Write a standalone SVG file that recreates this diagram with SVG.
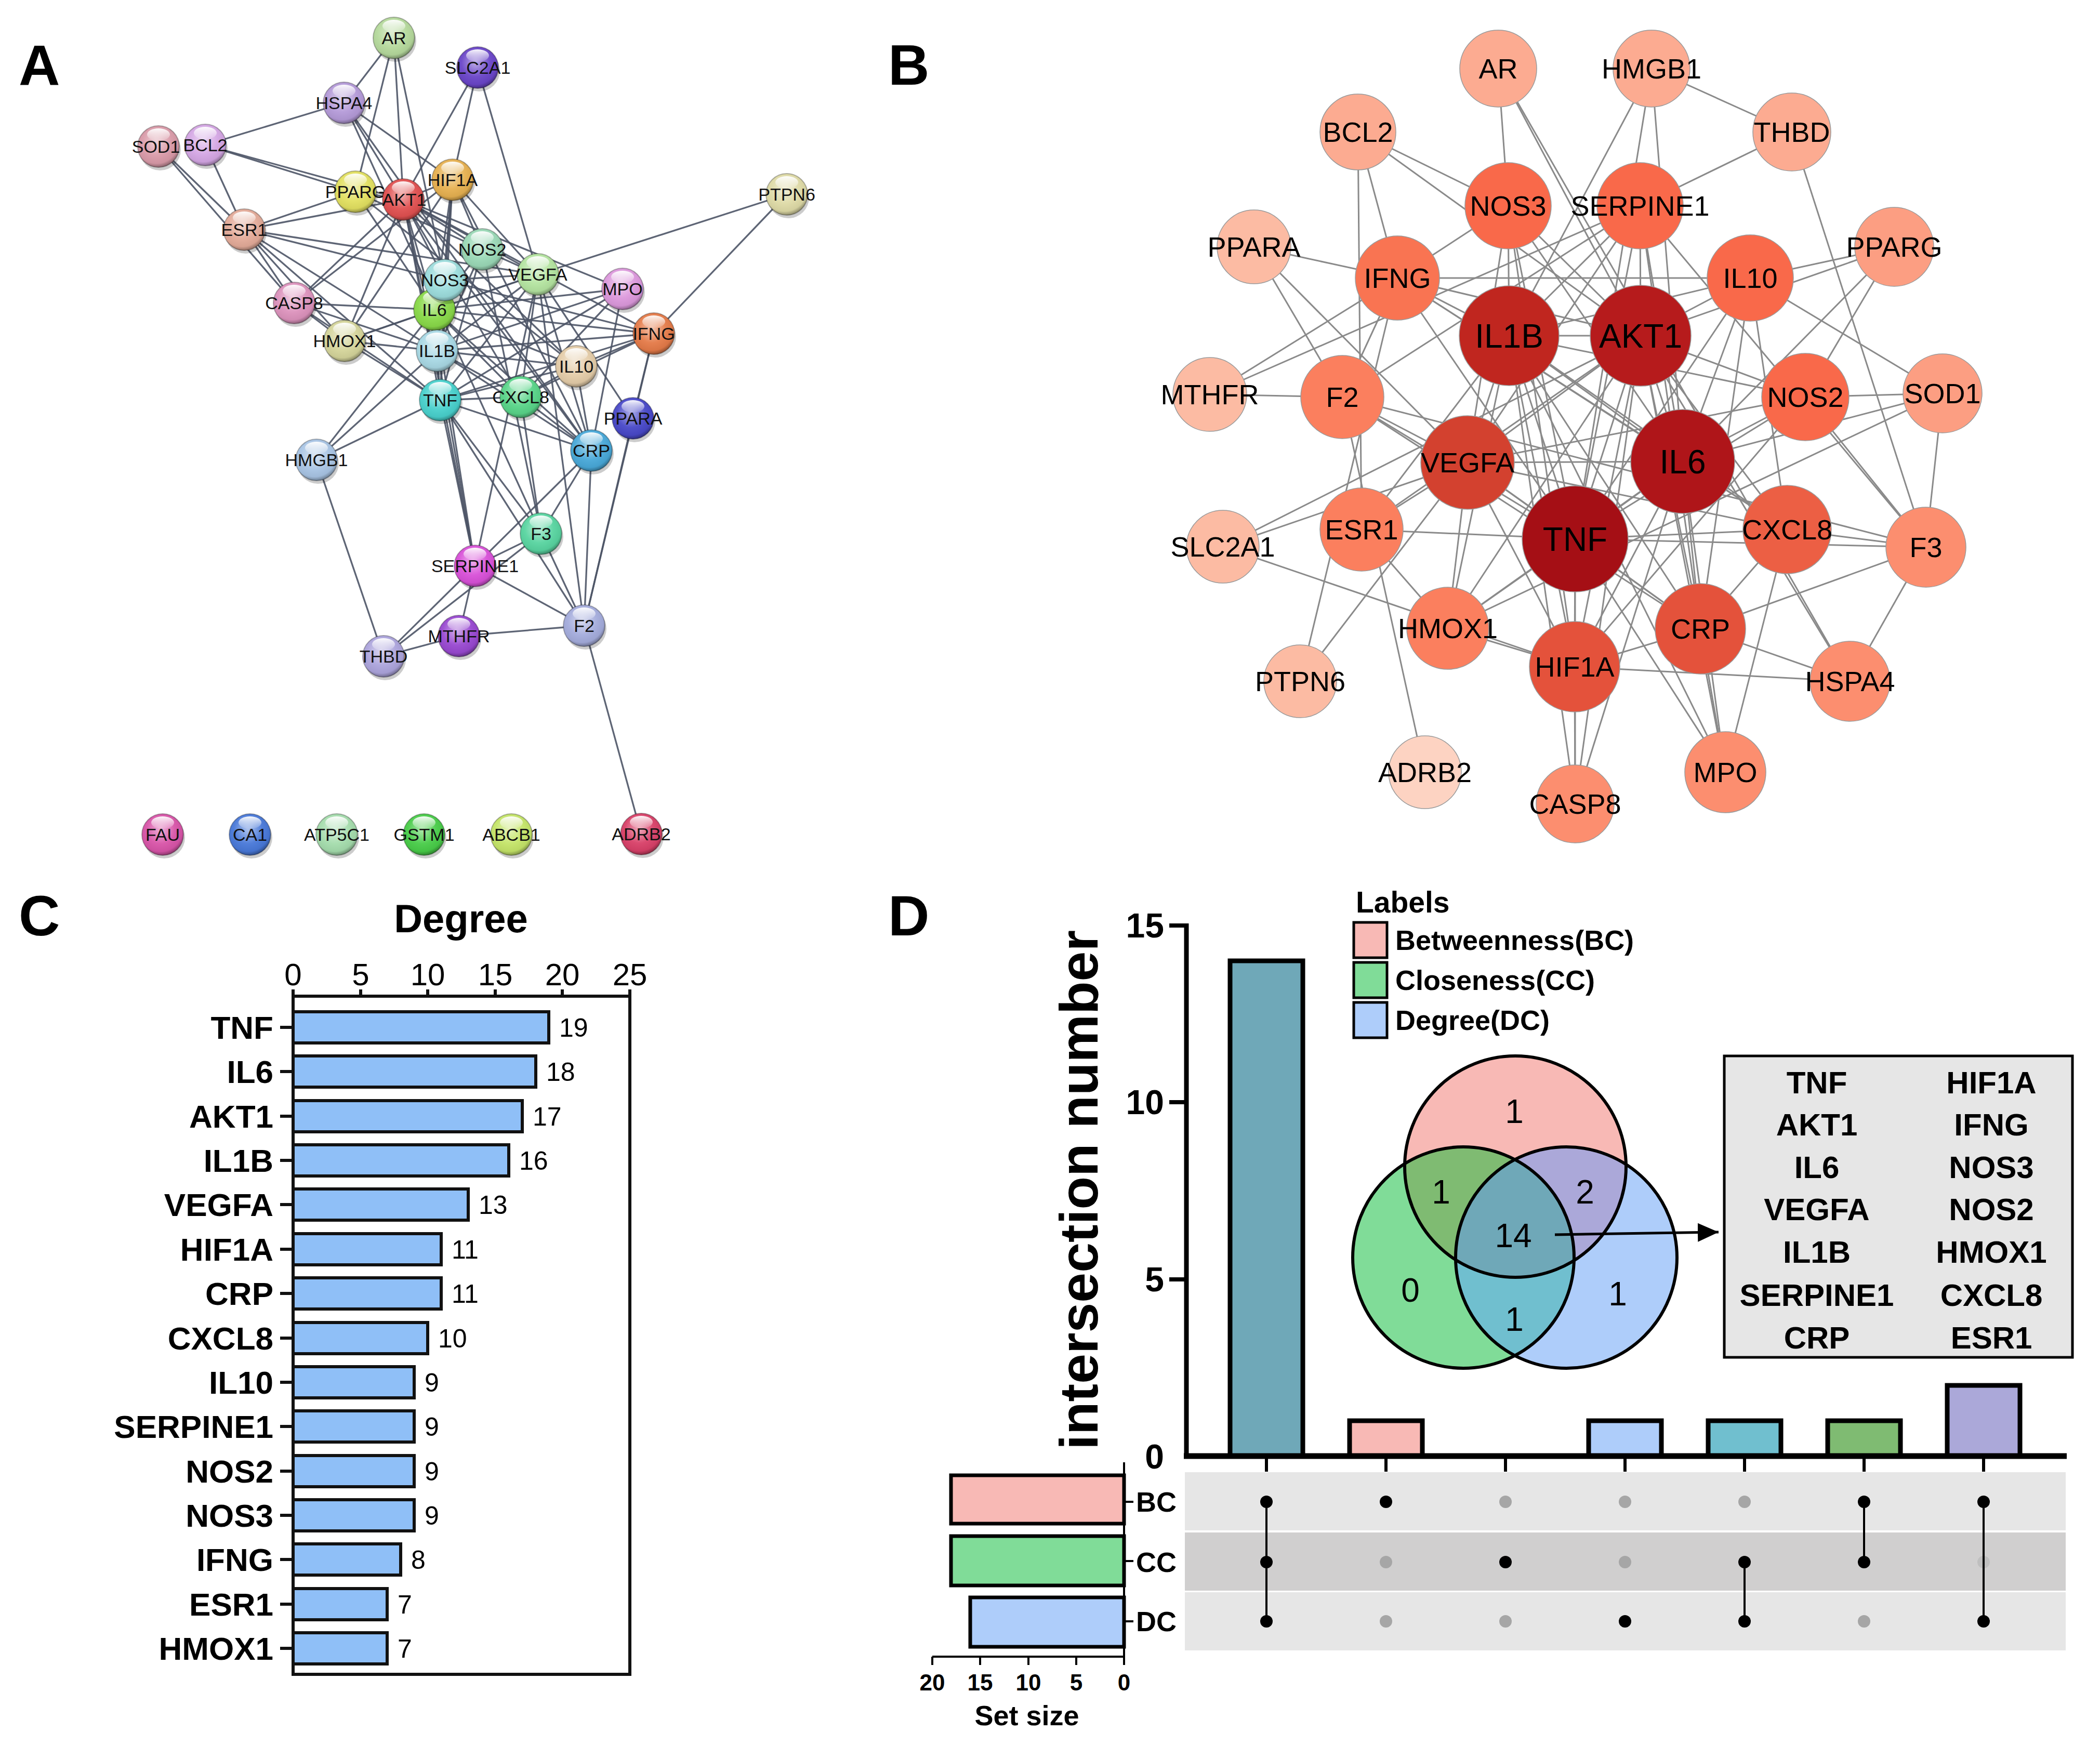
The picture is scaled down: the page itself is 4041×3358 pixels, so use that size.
<svg xmlns="http://www.w3.org/2000/svg" width="4041" height="3358" viewBox="0 0 4041 3358">
<defs>
<style>
text{font-family:"Liberation Sans",Arial,Helvetica,sans-serif;fill:#000}
.pl{font-size:110px;font-weight:bold}
.ea line{stroke:#4d5466;stroke-width:3.3;stroke-opacity:.9}
.eb line{stroke:#8a8a8a;stroke-width:3}
.sh{fill:#000;opacity:.2}
.an{stroke:#000;stroke-opacity:.28;stroke-width:2}
.gl{fill:url(#gloss)}
.hl{fill:url(#hlg)}
.ta{font-size:34px;text-anchor:middle;fill:#111}
.bn{stroke:#9a9a9a;stroke-width:1.5}
.tb{font-size:54px;text-anchor:middle}
.tbb{font-size:64px;text-anchor:middle}
.k1{fill:#a50f15}.k2{fill:#af1519}.k3{fill:#b61b1c}.k4{fill:#c0261f}.k5{fill:#d3412f}
.k6{fill:#e4523b}.k7{fill:#ec5f44}.k8{fill:#f9694a}.k9{fill:#f97452}.k10{fill:#fb7f5e}
.k11{fill:#fc8e6f}.k12{fill:#fc9e82}.k13{fill:#fcab91}.k14{fill:#fcbba3}.k15{fill:#fdd3c2}
.bar{fill:#8fbff7;stroke:#111;stroke-width:6}
.ax{stroke:#111;stroke-width:6;fill:none}
.rl{font-size:62px;font-weight:bold;text-anchor:end}
.vl{font-size:50px}
.tk{font-size:60px;text-anchor:middle}
.ib{stroke:#000;stroke-width:9}
.dk{fill:#000}
.dg{fill:#a6a6a6}
.vn{font-size:64px;text-anchor:middle}
.gt{font-size:60px;font-weight:bold;text-anchor:middle}
.lg{font-size:54px;font-weight:bold}
.vc{fill:none;stroke:#000;stroke-width:6}
</style>
<radialGradient id="gloss" cx="0.45" cy="0.38" r="0.62">
<stop offset="0" stop-color="#fff" stop-opacity="0.55"/>
<stop offset="0.55" stop-color="#fff" stop-opacity="0.05"/>
<stop offset="0.85" stop-color="#000" stop-opacity="0.05"/>
<stop offset="1" stop-color="#000" stop-opacity="0.35"/>
</radialGradient>
<linearGradient id="hlg" x1="0" y1="0" x2="0" y2="1">
<stop offset="0" stop-color="#fff" stop-opacity="0.95"/>
<stop offset="1" stop-color="#fff" stop-opacity="0.1"/>
</linearGradient>
<marker id="arr" viewBox="0 0 10 10" refX="10" refY="5" markerUnits="userSpaceOnUse" markerWidth="40" markerHeight="40" orient="auto">
<path d="M0 0.5L10 5L0 9.5z" fill="#000"/>
</marker>
<clipPath id="cR"><circle cx="2916" cy="2245" r="213"/></clipPath>
<clipPath id="cG"><circle cx="2816" cy="2420" r="213"/></clipPath>
</defs>
<rect width="4041" height="3358" fill="#fff"/>

<text class="pl" x="36" y="163">A</text>
<text class="pl" x="1709" y="163">B</text>
<text class="pl" x="36" y="1800">C</text>
<text class="pl" x="1709" y="1800">D</text>

<!-- Panel A connectors -->
<g id="edges-a" class="ea">
<line x1="758" y1="73" x2="662" y2="198"/><line x1="758" y1="73" x2="776" y2="384"/><line x1="758" y1="73" x2="856" y2="539"/>
<line x1="919" y1="130" x2="776" y2="384"/><line x1="919" y1="130" x2="1035" y2="528"/><line x1="919" y1="130" x2="871" y2="346"/>
<line x1="662" y1="198" x2="776" y2="384"/><line x1="662" y1="198" x2="1041" y2="1027"/><line x1="662" y1="198" x2="1138" y2="867"/><line x1="662" y1="198" x2="871" y2="346"/>
<line x1="395" y1="279" x2="776" y2="384"/><line x1="395" y1="279" x2="470" y2="442"/>
<line x1="684" y1="369" x2="1109" y2="705"/><line x1="684" y1="369" x2="928" y2="480"/><line x1="684" y1="369" x2="836" y2="596"/><line x1="684" y1="369" x2="776" y2="384"/>
<line x1="1218" y1="805" x2="1258" y2="642"/><line x1="1218" y1="805" x2="1124" y2="1204"/><line x1="1218" y1="805" x2="1035" y2="528"/>
<line x1="883" y1="1224" x2="1124" y2="1204"/><line x1="883" y1="1224" x2="914" y2="1089"/>
<line x1="738" y1="1263" x2="609" y2="885"/><line x1="738" y1="1263" x2="914" y2="1089"/><line x1="738" y1="1263" x2="1041" y2="1027"/>
<line x1="609" y1="885" x2="841" y2="675"/><line x1="609" y1="885" x2="847" y2="770"/><line x1="609" y1="885" x2="836" y2="596"/>
<line x1="1124" y1="1204" x2="1234" y2="1605"/><line x1="1124" y1="1204" x2="1258" y2="642"/><line x1="1124" y1="1204" x2="1035" y2="528"/><line x1="1124" y1="1204" x2="847" y2="770"/><line x1="1124" y1="1204" x2="914" y2="1089"/><line x1="1124" y1="1204" x2="1041" y2="1027"/><line x1="1124" y1="1204" x2="1138" y2="867"/>
<line x1="470" y1="442" x2="1035" y2="528"/><line x1="470" y1="442" x2="847" y2="770"/><line x1="470" y1="442" x2="663" y2="656"/><line x1="470" y1="442" x2="776" y2="384"/><line x1="470" y1="442" x2="841" y2="675"/>
<line x1="1514" y1="374" x2="1258" y2="642"/><line x1="1514" y1="374" x2="1035" y2="528"/>
<line x1="856" y1="539" x2="1258" y2="642"/><line x1="856" y1="539" x2="841" y2="675"/><line x1="856" y1="539" x2="776" y2="384"/><line x1="856" y1="539" x2="1035" y2="528"/><line x1="856" y1="539" x2="847" y2="770"/><line x1="856" y1="539" x2="836" y2="596"/><line x1="856" y1="539" x2="871" y2="346"/>
<line x1="914" y1="1089" x2="841" y2="675"/><line x1="914" y1="1089" x2="776" y2="384"/><line x1="914" y1="1089" x2="847" y2="770"/><line x1="914" y1="1089" x2="836" y2="596"/><line x1="914" y1="1089" x2="1035" y2="528"/><line x1="914" y1="1089" x2="1041" y2="1027"/><line x1="914" y1="1089" x2="1138" y2="867"/>
<line x1="1258" y1="642" x2="1109" y2="705"/><line x1="1258" y1="642" x2="841" y2="675"/><line x1="1258" y1="642" x2="776" y2="384"/><line x1="1258" y1="642" x2="847" y2="770"/><line x1="1258" y1="642" x2="836" y2="596"/><line x1="1258" y1="642" x2="1002" y2="764"/>
<line x1="1109" y1="705" x2="776" y2="384"/><line x1="1109" y1="705" x2="836" y2="596"/><line x1="1109" y1="705" x2="847" y2="770"/><line x1="1109" y1="705" x2="1002" y2="764"/><line x1="1109" y1="705" x2="1138" y2="867"/><line x1="1109" y1="705" x2="841" y2="675"/>
<line x1="928" y1="480" x2="1041" y2="1027"/><line x1="928" y1="480" x2="776" y2="384"/><line x1="928" y1="480" x2="836" y2="596"/><line x1="928" y1="480" x2="847" y2="770"/><line x1="928" y1="480" x2="841" y2="675"/><line x1="928" y1="480" x2="1035" y2="528"/><line x1="928" y1="480" x2="871" y2="346"/>
<line x1="841" y1="675" x2="776" y2="384"/><line x1="841" y1="675" x2="847" y2="770"/><line x1="841" y1="675" x2="836" y2="596"/><line x1="841" y1="675" x2="1035" y2="528"/><line x1="841" y1="675" x2="663" y2="656"/><line x1="841" y1="675" x2="1002" y2="764"/><line x1="841" y1="675" x2="1138" y2="867"/><line x1="841" y1="675" x2="1198" y2="556"/><line x1="841" y1="675" x2="566" y2="583"/><line x1="841" y1="675" x2="871" y2="346"/>
<line x1="776" y1="384" x2="847" y2="770"/><line x1="776" y1="384" x2="836" y2="596"/><line x1="776" y1="384" x2="1035" y2="528"/><line x1="776" y1="384" x2="871" y2="346"/><line x1="776" y1="384" x2="1002" y2="764"/><line x1="776" y1="384" x2="1138" y2="867"/><line x1="776" y1="384" x2="1198" y2="556"/><line x1="776" y1="384" x2="566" y2="583"/><line x1="776" y1="384" x2="663" y2="656"/>
<line x1="836" y1="596" x2="847" y2="770"/><line x1="836" y1="596" x2="1035" y2="528"/><line x1="836" y1="596" x2="1002" y2="764"/><line x1="836" y1="596" x2="1138" y2="867"/><line x1="836" y1="596" x2="1198" y2="556"/><line x1="836" y1="596" x2="566" y2="583"/><line x1="836" y1="596" x2="663" y2="656"/><line x1="836" y1="596" x2="871" y2="346"/>
<line x1="847" y1="770" x2="1035" y2="528"/><line x1="847" y1="770" x2="1002" y2="764"/><line x1="847" y1="770" x2="1138" y2="867"/><line x1="847" y1="770" x2="1198" y2="556"/><line x1="847" y1="770" x2="566" y2="583"/><line x1="847" y1="770" x2="663" y2="656"/><line x1="847" y1="770" x2="871" y2="346"/><line x1="847" y1="770" x2="1041" y2="1027"/>
<line x1="1002" y1="764" x2="1041" y2="1027"/><line x1="1002" y1="764" x2="1138" y2="867"/><line x1="1002" y1="764" x2="1198" y2="556"/><line x1="1002" y1="764" x2="1035" y2="528"/>
<line x1="1138" y1="867" x2="1041" y2="1027"/><line x1="1138" y1="867" x2="1198" y2="556"/><line x1="1138" y1="867" x2="871" y2="346"/><line x1="1138" y1="867" x2="1035" y2="528"/>
<line x1="566" y1="583" x2="871" y2="346"/><line x1="663" y1="656" x2="1035" y2="528"/><line x1="663" y1="656" x2="871" y2="346"/><line x1="871" y1="346" x2="1035" y2="528"/>
<line x1="662" y1="198" x2="395" y2="279"/><line x1="395" y1="279" x2="684" y2="369"/><line x1="470" y1="442" x2="684" y2="369"/><line x1="470" y1="442" x2="856" y2="539"/>
<line x1="305" y1="282" x2="470" y2="442"/><line x1="305" y1="282" x2="566" y2="583"/><line x1="470" y1="442" x2="566" y2="583"/><line x1="566" y1="583" x2="663" y2="656"/>
<line x1="883" y1="1224" x2="738" y2="1263"/><line x1="758" y1="73" x2="684" y2="369"/>
</g>

<!-- Panel A nodes -->
<g id="a-AR"><circle class="sh" cx="761" cy="79" r="40"/><circle class="an" cx="758" cy="73" r="40" fill="#b5d99c"/><circle class="gl" cx="758" cy="73" r="40"/><ellipse class="hl" cx="758" cy="50" rx="22" ry="12"/><text class="ta" x="758" y="85">AR</text></g>
<g id="a-SLC2A1"><circle class="sh" cx="922" cy="136" r="40"/><circle class="an" cx="919" cy="130" r="40" fill="#6a45c8"/><circle class="gl" cx="919" cy="130" r="40"/><ellipse class="hl" cx="919" cy="107" rx="22" ry="12"/><text class="ta" x="919" y="142">SLC2A1</text></g>
<g id="a-HSPA4"><circle class="sh" cx="665" cy="204" r="40"/><circle class="an" cx="662" cy="198" r="40" fill="#b49ad8"/><circle class="gl" cx="662" cy="198" r="40"/><ellipse class="hl" cx="662" cy="175" rx="22" ry="12"/><text class="ta" x="662" y="210">HSPA4</text></g>
<g id="a-SOD1"><circle class="sh" cx="308" cy="288" r="40"/><circle class="an" cx="305" cy="282" r="40" fill="#d99aa8"/><circle class="gl" cx="305" cy="282" r="40"/><ellipse class="hl" cx="305" cy="259" rx="22" ry="12"/><text class="ta" x="300" y="294">SOD1</text></g>
<g id="a-BCL2"><circle class="sh" cx="398" cy="285" r="40"/><circle class="an" cx="395" cy="279" r="40" fill="#d4a6e4"/><circle class="gl" cx="395" cy="279" r="40"/><ellipse class="hl" cx="395" cy="256" rx="22" ry="12"/><text class="ta" x="395" y="291">BCL2</text></g>
<g id="a-HIF1A"><circle class="sh" cx="874" cy="352" r="40"/><circle class="an" cx="871" cy="346" r="40" fill="#e6b050"/><circle class="gl" cx="871" cy="346" r="40"/><ellipse class="hl" cx="871" cy="323" rx="22" ry="12"/><text class="ta" x="871" y="358">HIF1A</text></g>
<g id="a-PPARG"><circle class="sh" cx="687" cy="375" r="40"/><circle class="an" cx="684" cy="369" r="40" fill="#e2e060"/><circle class="gl" cx="684" cy="369" r="40"/><ellipse class="hl" cx="684" cy="346" rx="22" ry="12"/><text class="ta" x="684" y="381">PPARG</text></g>
<g id="a-AKT1"><circle class="sh" cx="779" cy="390" r="40"/><circle class="an" cx="776" cy="384" r="40" fill="#e05050"/><circle class="gl" cx="776" cy="384" r="40"/><ellipse class="hl" cx="776" cy="361" rx="22" ry="12"/><text class="ta" x="778" y="396">AKT1</text></g>
<g id="a-PTPN6"><circle class="sh" cx="1517" cy="380" r="40"/><circle class="an" cx="1514" cy="374" r="40" fill="#dedaa6"/><circle class="gl" cx="1514" cy="374" r="40"/><ellipse class="hl" cx="1514" cy="351" rx="22" ry="12"/><text class="ta" x="1514" y="386">PTPN6</text></g>
<g id="a-ESR1"><circle class="sh" cx="473" cy="448" r="40"/><circle class="an" cx="470" cy="442" r="40" fill="#e3aa98"/><circle class="gl" cx="470" cy="442" r="40"/><ellipse class="hl" cx="470" cy="419" rx="22" ry="12"/><text class="ta" x="470" y="454">ESR1</text></g>
<g id="a-NOS2"><circle class="sh" cx="931" cy="486" r="40"/><circle class="an" cx="928" cy="480" r="40" fill="#9ad8b6"/><circle class="gl" cx="928" cy="480" r="40"/><ellipse class="hl" cx="928" cy="457" rx="22" ry="12"/><text class="ta" x="928" y="492">NOS2</text></g>
<g id="a-VEGFA"><circle class="sh" cx="1038" cy="534" r="40"/><circle class="an" cx="1035" cy="528" r="40" fill="#b4e4a0"/><circle class="gl" cx="1035" cy="528" r="40"/><ellipse class="hl" cx="1035" cy="505" rx="22" ry="12"/><text class="ta" x="1035" y="540">VEGFA</text></g>
<g id="a-MPO"><circle class="sh" cx="1201" cy="562" r="40"/><circle class="an" cx="1198" cy="556" r="40" fill="#dc98dc"/><circle class="gl" cx="1198" cy="556" r="40"/><ellipse class="hl" cx="1198" cy="533" rx="22" ry="12"/><text class="ta" x="1198" y="568">MPO</text></g>
<g id="a-CASP8"><circle class="sh" cx="569" cy="589" r="40"/><circle class="an" cx="566" cy="583" r="40" fill="#dc92bc"/><circle class="gl" cx="566" cy="583" r="40"/><ellipse class="hl" cx="566" cy="560" rx="22" ry="12"/><text class="ta" x="566" y="595">CASP8</text></g>
<g id="a-IL6"><circle class="sh" cx="839" cy="602" r="40"/><circle class="an" cx="836" cy="596" r="40" fill="#88d848"/><circle class="gl" cx="836" cy="596" r="40"/><ellipse class="hl" cx="836" cy="573" rx="22" ry="12"/><text class="ta" x="836" y="608">IL6</text></g>
<g id="a-NOS3"><circle class="sh" cx="859" cy="545" r="40"/><circle class="an" cx="856" cy="539" r="40" fill="#9cdcdc"/><circle class="gl" cx="856" cy="539" r="40"/><ellipse class="hl" cx="856" cy="516" rx="22" ry="12"/><text class="ta" x="856" y="551">NOS3</text></g>
<g id="a-IFNG"><circle class="sh" cx="1261" cy="648" r="40"/><circle class="an" cx="1258" cy="642" r="40" fill="#e47a48"/><circle class="gl" cx="1258" cy="642" r="40"/><ellipse class="hl" cx="1258" cy="619" rx="22" ry="12"/><text class="ta" x="1258" y="654">IFNG</text></g>
<g id="a-HMOX1"><circle class="sh" cx="666" cy="662" r="40"/><circle class="an" cx="663" cy="656" r="40" fill="#d4d49a"/><circle class="gl" cx="663" cy="656" r="40"/><ellipse class="hl" cx="663" cy="633" rx="22" ry="12"/><text class="ta" x="663" y="668">HMOX1</text></g>
<g id="a-IL1B"><circle class="sh" cx="844" cy="681" r="40"/><circle class="an" cx="841" cy="675" r="40" fill="#a8d8e4"/><circle class="gl" cx="841" cy="675" r="40"/><ellipse class="hl" cx="841" cy="652" rx="22" ry="12"/><text class="ta" x="841" y="687">IL1B</text></g>
<g id="a-IL10"><circle class="sh" cx="1112" cy="711" r="40"/><circle class="an" cx="1109" cy="705" r="40" fill="#e4cca8"/><circle class="gl" cx="1109" cy="705" r="40"/><ellipse class="hl" cx="1109" cy="682" rx="22" ry="12"/><text class="ta" x="1109" y="717">IL10</text></g>
<g id="a-TNF"><circle class="sh" cx="850" cy="776" r="40"/><circle class="an" cx="847" cy="770" r="40" fill="#48d0cc"/><circle class="gl" cx="847" cy="770" r="40"/><ellipse class="hl" cx="847" cy="747" rx="22" ry="12"/><text class="ta" x="847" y="782">TNF</text></g>
<g id="a-CXCL8"><circle class="sh" cx="1005" cy="770" r="40"/><circle class="an" cx="1002" cy="764" r="40" fill="#58d488"/><circle class="gl" cx="1002" cy="764" r="40"/><ellipse class="hl" cx="1002" cy="741" rx="22" ry="12"/><text class="ta" x="1002" y="776">CXCL8</text></g>
<g id="a-PPARA"><circle class="sh" cx="1221" cy="811" r="40"/><circle class="an" cx="1218" cy="805" r="40" fill="#4848c8"/><circle class="gl" cx="1218" cy="805" r="40"/><ellipse class="hl" cx="1218" cy="782" rx="22" ry="12"/><text class="ta" x="1218" y="817">PPARA</text></g>
<g id="a-CRP"><circle class="sh" cx="1141" cy="873" r="40"/><circle class="an" cx="1138" cy="867" r="40" fill="#48a8d8"/><circle class="gl" cx="1138" cy="867" r="40"/><ellipse class="hl" cx="1138" cy="844" rx="22" ry="12"/><text class="ta" x="1138" y="879">CRP</text></g>
<g id="a-HMGB1"><circle class="sh" cx="612" cy="891" r="40"/><circle class="an" cx="609" cy="885" r="40" fill="#a8c4e4"/><circle class="gl" cx="609" cy="885" r="40"/><ellipse class="hl" cx="609" cy="862" rx="22" ry="12"/><text class="ta" x="609" y="897">HMGB1</text></g>
<g id="a-F3"><circle class="sh" cx="1044" cy="1033" r="40"/><circle class="an" cx="1041" cy="1027" r="40" fill="#58d4a0"/><circle class="gl" cx="1041" cy="1027" r="40"/><ellipse class="hl" cx="1041" cy="1004" rx="22" ry="12"/><text class="ta" x="1041" y="1039">F3</text></g>
<g id="a-SERPINE1"><circle class="sh" cx="917" cy="1095" r="40"/><circle class="an" cx="914" cy="1089" r="40" fill="#d850d8"/><circle class="gl" cx="914" cy="1089" r="40"/><ellipse class="hl" cx="914" cy="1066" rx="22" ry="12"/><text class="ta" x="914" y="1101">SERPINE1</text></g>
<g id="a-F2"><circle class="sh" cx="1127" cy="1210" r="40"/><circle class="an" cx="1124" cy="1204" r="40" fill="#a4acdc"/><circle class="gl" cx="1124" cy="1204" r="40"/><ellipse class="hl" cx="1124" cy="1181" rx="22" ry="12"/><text class="ta" x="1124" y="1216">F2</text></g>
<g id="a-MTHFR"><circle class="sh" cx="886" cy="1230" r="40"/><circle class="an" cx="883" cy="1224" r="40" fill="#9848d0"/><circle class="gl" cx="883" cy="1224" r="40"/><ellipse class="hl" cx="883" cy="1201" rx="22" ry="12"/><text class="ta" x="883" y="1236">MTHFR</text></g>
<g id="a-THBD"><circle class="sh" cx="741" cy="1269" r="40"/><circle class="an" cx="738" cy="1263" r="40" fill="#aca4dc"/><circle class="gl" cx="738" cy="1263" r="40"/><ellipse class="hl" cx="738" cy="1240" rx="22" ry="12"/><text class="ta" x="738" y="1275">THBD</text></g>
<g id="a-FAU"><circle class="sh" cx="316" cy="1612" r="40"/><circle class="an" cx="313" cy="1606" r="40" fill="#d854a8"/><circle class="gl" cx="313" cy="1606" r="40"/><ellipse class="hl" cx="313" cy="1583" rx="22" ry="12"/><text class="ta" x="313" y="1618">FAU</text></g>
<g id="a-CA1"><circle class="sh" cx="484" cy="1612" r="40"/><circle class="an" cx="481" cy="1606" r="40" fill="#4878d8"/><circle class="gl" cx="481" cy="1606" r="40"/><ellipse class="hl" cx="481" cy="1583" rx="22" ry="12"/><text class="ta" x="481" y="1618">CA1</text></g>
<g id="a-ATP5C1"><circle class="sh" cx="651" cy="1612" r="40"/><circle class="an" cx="648" cy="1606" r="40" fill="#a4dcac"/><circle class="gl" cx="648" cy="1606" r="40"/><ellipse class="hl" cx="648" cy="1583" rx="22" ry="12"/><text class="ta" x="648" y="1618">ATP5C1</text></g>
<g id="a-GSTM1"><circle class="sh" cx="819" cy="1612" r="40"/><circle class="an" cx="816" cy="1606" r="40" fill="#48cc48"/><circle class="gl" cx="816" cy="1606" r="40"/><ellipse class="hl" cx="816" cy="1583" rx="22" ry="12"/><text class="ta" x="816" y="1618">GSTM1</text></g>
<g id="a-ABCB1"><circle class="sh" cx="987" cy="1612" r="40"/><circle class="an" cx="984" cy="1606" r="40" fill="#c4e468"/><circle class="gl" cx="984" cy="1606" r="40"/><ellipse class="hl" cx="984" cy="1583" rx="22" ry="12"/><text class="ta" x="984" y="1618">ABCB1</text></g>
<g id="a-ADRB2"><circle class="sh" cx="1237" cy="1611" r="40"/><circle class="an" cx="1234" cy="1605" r="40" fill="#d84068"/><circle class="gl" cx="1234" cy="1605" r="40"/><ellipse class="hl" cx="1234" cy="1582" rx="22" ry="12"/><text class="ta" x="1234" y="1617">ADRB2</text></g>

<!-- Panel B connectors -->
<g id="edges-b" class="eb">
<line x1="2883" y1="132" x2="3560" y2="1311"/><line x1="2883" y1="132" x2="3157" y2="646"/><line x1="2883" y1="132" x2="2902" y2="396"/>
<line x1="2353" y1="1052" x2="3157" y2="646"/><line x1="2353" y1="1052" x2="2824" y2="890"/><line x1="2353" y1="1052" x2="3030" y2="1283"/>
<line x1="3560" y1="1311" x2="3157" y2="646"/><line x1="3560" y1="1311" x2="3706" y2="1053"/><line x1="3560" y1="1311" x2="3272" y2="1210"/><line x1="3560" y1="1311" x2="3030" y2="1283"/>
<line x1="3738" y1="757" x2="3474" y2="764"/><line x1="3738" y1="757" x2="3706" y2="1053"/><line x1="3738" y1="757" x2="3368" y2="535"/><line x1="3738" y1="757" x2="2786" y2="1209"/><line x1="3738" y1="757" x2="3238" y2="888"/>
<line x1="2613" y1="254" x2="2902" y2="396"/><line x1="2613" y1="254" x2="3157" y2="646"/><line x1="2613" y1="254" x2="2689" y2="535"/><line x1="2613" y1="254" x2="2620" y2="1019"/>
<line x1="3645" y1="475" x2="3368" y2="535"/><line x1="3645" y1="475" x2="3474" y2="764"/><line x1="3645" y1="475" x2="3238" y2="888"/><line x1="3645" y1="475" x2="3157" y2="646"/>
<line x1="2413" y1="475" x2="2689" y2="535"/><line x1="2413" y1="475" x2="2583" y2="764"/><line x1="2413" y1="475" x2="2824" y2="890"/>
<line x1="2328" y1="759" x2="2583" y2="764"/><line x1="2328" y1="759" x2="2689" y2="535"/><line x1="2328" y1="759" x2="3156" y2="396"/>
<line x1="3448" y1="254" x2="3178" y2="132"/><line x1="3448" y1="254" x2="3156" y2="396"/><line x1="3448" y1="254" x2="3706" y2="1053"/>
<line x1="3178" y1="132" x2="2904" y2="646"/><line x1="3178" y1="132" x2="3031" y2="1037"/><line x1="3178" y1="132" x2="3238" y2="888"/>
<line x1="2583" y1="764" x2="2742" y2="1486"/><line x1="2583" y1="764" x2="2689" y2="535"/><line x1="2583" y1="764" x2="2824" y2="890"/><line x1="2583" y1="764" x2="3031" y2="1037"/><line x1="2583" y1="764" x2="3156" y2="396"/><line x1="2583" y1="764" x2="3706" y2="1053"/><line x1="2583" y1="764" x2="3272" y2="1210"/>
<line x1="2620" y1="1019" x2="2824" y2="890"/><line x1="2620" y1="1019" x2="3031" y2="1037"/><line x1="2620" y1="1019" x2="2786" y2="1209"/><line x1="2620" y1="1019" x2="3157" y2="646"/><line x1="2620" y1="1019" x2="2904" y2="646"/>
<line x1="2502" y1="1311" x2="2689" y2="535"/><line x1="2502" y1="1311" x2="2824" y2="890"/>
<line x1="2902" y1="396" x2="2689" y2="535"/><line x1="2902" y1="396" x2="2904" y2="646"/><line x1="2902" y1="396" x2="3157" y2="646"/><line x1="2902" y1="396" x2="2824" y2="890"/><line x1="2902" y1="396" x2="3031" y2="1037"/><line x1="2902" y1="396" x2="3238" y2="888"/><line x1="2902" y1="396" x2="3030" y2="1283"/>
<line x1="3156" y1="396" x2="2904" y2="646"/><line x1="3156" y1="396" x2="3157" y2="646"/><line x1="3156" y1="396" x2="3031" y2="1037"/><line x1="3156" y1="396" x2="3238" y2="888"/><line x1="3156" y1="396" x2="2824" y2="890"/><line x1="3156" y1="396" x2="3706" y2="1053"/><line x1="3156" y1="396" x2="3272" y2="1210"/>
<line x1="2689" y1="535" x2="3368" y2="535"/><line x1="2689" y1="535" x2="2904" y2="646"/><line x1="2689" y1="535" x2="3157" y2="646"/><line x1="2689" y1="535" x2="3031" y2="1037"/><line x1="2689" y1="535" x2="3238" y2="888"/><line x1="2689" y1="535" x2="3439" y2="1019"/>
<line x1="3368" y1="535" x2="3157" y2="646"/><line x1="3368" y1="535" x2="3238" y2="888"/><line x1="3368" y1="535" x2="3031" y2="1037"/><line x1="3368" y1="535" x2="3439" y2="1019"/><line x1="3368" y1="535" x2="3272" y2="1210"/><line x1="3368" y1="535" x2="2904" y2="646"/>
<line x1="3474" y1="764" x2="3706" y2="1053"/><line x1="3474" y1="764" x2="3157" y2="646"/><line x1="3474" y1="764" x2="3238" y2="888"/><line x1="3474" y1="764" x2="3031" y2="1037"/><line x1="3474" y1="764" x2="2904" y2="646"/><line x1="3474" y1="764" x2="2824" y2="890"/><line x1="3474" y1="764" x2="3030" y2="1283"/>
<line x1="2904" y1="646" x2="3157" y2="646"/><line x1="2904" y1="646" x2="3031" y2="1037"/><line x1="2904" y1="646" x2="3238" y2="888"/><line x1="2904" y1="646" x2="2824" y2="890"/><line x1="2904" y1="646" x2="2786" y2="1209"/><line x1="2904" y1="646" x2="3439" y2="1019"/><line x1="2904" y1="646" x2="3272" y2="1210"/><line x1="2904" y1="646" x2="3320" y2="1486"/><line x1="2904" y1="646" x2="3031" y2="1547"/><line x1="2904" y1="646" x2="3030" y2="1283"/>
<line x1="3157" y1="646" x2="3031" y2="1037"/><line x1="3157" y1="646" x2="3238" y2="888"/><line x1="3157" y1="646" x2="2824" y2="890"/><line x1="3157" y1="646" x2="3030" y2="1283"/><line x1="3157" y1="646" x2="3439" y2="1019"/><line x1="3157" y1="646" x2="3272" y2="1210"/><line x1="3157" y1="646" x2="3320" y2="1486"/><line x1="3157" y1="646" x2="3031" y2="1547"/><line x1="3157" y1="646" x2="2786" y2="1209"/>
<line x1="3238" y1="888" x2="3031" y2="1037"/><line x1="3238" y1="888" x2="2824" y2="890"/><line x1="3238" y1="888" x2="3439" y2="1019"/><line x1="3238" y1="888" x2="3272" y2="1210"/><line x1="3238" y1="888" x2="3320" y2="1486"/><line x1="3238" y1="888" x2="3031" y2="1547"/><line x1="3238" y1="888" x2="2786" y2="1209"/><line x1="3238" y1="888" x2="3030" y2="1283"/>
<line x1="3031" y1="1037" x2="2824" y2="890"/><line x1="3031" y1="1037" x2="3439" y2="1019"/><line x1="3031" y1="1037" x2="3272" y2="1210"/><line x1="3031" y1="1037" x2="3320" y2="1486"/><line x1="3031" y1="1037" x2="3031" y2="1547"/><line x1="3031" y1="1037" x2="2786" y2="1209"/><line x1="3031" y1="1037" x2="3030" y2="1283"/><line x1="3031" y1="1037" x2="3706" y2="1053"/>
<line x1="3439" y1="1019" x2="3706" y2="1053"/><line x1="3439" y1="1019" x2="3272" y2="1210"/><line x1="3439" y1="1019" x2="3320" y2="1486"/><line x1="3439" y1="1019" x2="2824" y2="890"/>
<line x1="3272" y1="1210" x2="3706" y2="1053"/><line x1="3272" y1="1210" x2="3320" y2="1486"/><line x1="3272" y1="1210" x2="3030" y2="1283"/><line x1="3272" y1="1210" x2="2824" y2="890"/>
<line x1="3031" y1="1547" x2="3030" y2="1283"/><line x1="2786" y1="1209" x2="2824" y2="890"/><line x1="2786" y1="1209" x2="3030" y2="1283"/><line x1="3030" y1="1283" x2="2824" y2="890"/>
</g>

<!-- Panel B nodes -->
<g id="b-AR"><circle class="bn k13" cx="2883" cy="132" r="74"/><text class="tb" x="2883" y="151">AR</text></g>
<g id="b-HMGB1"><circle class="bn k13" cx="3178" cy="132" r="74"/><text class="tb" x="3178" y="151">HMGB1</text></g>
<g id="b-BCL2"><circle class="bn k13" cx="2613" cy="254" r="73"/><text class="tb" x="2613" y="273">BCL2</text></g>
<g id="b-THBD"><circle class="bn k13" cx="3448" cy="254" r="75"/><text class="tb" x="3448" y="273">THBD</text></g>
<g id="b-NOS3"><circle class="bn k8" cx="2902" cy="396" r="83"/><text class="tb" x="2902" y="415">NOS3</text></g>
<g id="b-SERPINE1"><circle class="bn k8" cx="3156" cy="396" r="83"/><text class="tb" x="3156" y="415">SERPINE1</text></g>
<g id="b-PPARA"><circle class="bn k14" cx="2413" cy="475" r="71"/><text class="tb" x="2413" y="494">PPARA</text></g>
<g id="b-PPARG"><circle class="bn k12" cx="3645" cy="475" r="76"/><text class="tb" x="3645" y="494">PPARG</text></g>
<g id="b-IFNG"><circle class="bn k9" cx="2689" cy="535" r="81"/><text class="tb" x="2689" y="554">IFNG</text></g>
<g id="b-IL10"><circle class="bn k8" cx="3368" cy="535" r="83"/><text class="tb" x="3368" y="554">IL10</text></g>
<g id="b-IL1B"><circle class="bn k4" cx="2904" cy="646" r="96"/><text class="tbb" x="2904" y="669">IL1B</text></g>
<g id="b-AKT1"><circle class="bn k3" cx="3157" cy="646" r="97"/><text class="tbb" x="3157" y="669">AKT1</text></g>
<g id="b-MTHFR"><circle class="bn k14" cx="2328" cy="759" r="71"/><text class="tb" x="2328" y="778">MTHFR</text></g>
<g id="b-F2"><circle class="bn k10" cx="2583" cy="764" r="80"/><text class="tb" x="2583" y="783">F2</text></g>
<g id="b-NOS2"><circle class="bn k8" cx="3474" cy="764" r="84"/><text class="tb" x="3474" y="783">NOS2</text></g>
<g id="b-SOD1"><circle class="bn k12" cx="3738" cy="757" r="76"/><text class="tb" x="3738" y="776">SOD1</text></g>
<g id="b-VEGFA"><circle class="bn k5" cx="2824" cy="890" r="90"/><text class="tb" x="2824" y="909">VEGFA</text></g>
<g id="b-IL6"><circle class="bn k2" cx="3238" cy="888" r="100"/><text class="tbb" x="3238" y="911">IL6</text></g>
<g id="b-SLC2A1"><circle class="bn k14" cx="2353" cy="1052" r="70"/><text class="tb" x="2353" y="1071">SLC2A1</text></g>
<g id="b-ESR1"><circle class="bn k10" cx="2620" cy="1019" r="80"/><text class="tb" x="2620" y="1038">ESR1</text></g>
<g id="b-TNF"><circle class="bn k1" cx="3031" cy="1037" r="102"/><text class="tbb" x="3031" y="1060">TNF</text></g>
<g id="b-CXCL8"><circle class="bn k7" cx="3439" cy="1019" r="85"/><text class="tb" x="3439" y="1038">CXCL8</text></g>
<g id="b-F3"><circle class="bn k11" cx="3706" cy="1053" r="77"/><text class="tb" x="3706" y="1072">F3</text></g>
<g id="b-HMOX1"><circle class="bn k10" cx="2786" cy="1209" r="79"/><text class="tb" x="2786" y="1228">HMOX1</text></g>
<g id="b-CRP"><circle class="bn k6" cx="3272" cy="1210" r="87"/><text class="tb" x="3272" y="1229">CRP</text></g>
<g id="b-HIF1A"><circle class="bn k6" cx="3030" cy="1283" r="87"/><text class="tb" x="3030" y="1302">HIF1A</text></g>
<g id="b-PTPN6"><circle class="bn k14" cx="2502" cy="1311" r="70"/><text class="tb" x="2502" y="1330">PTPN6</text></g>
<g id="b-HSPA4"><circle class="bn k11" cx="3560" cy="1311" r="77"/><text class="tb" x="3560" y="1330">HSPA4</text></g>
<g id="b-ADRB2"><circle class="bn k15" cx="2742" cy="1486" r="70"/><text class="tb" x="2742" y="1505">ADRB2</text></g>
<g id="b-MPO"><circle class="bn k11" cx="3320" cy="1486" r="78"/><text class="tb" x="3320" y="1505">MPO</text></g>
<g id="b-CASP8"><circle class="bn k11" cx="3031" cy="1547" r="75"/><text class="tb" x="3031" y="1566">CASP8</text></g>

<!-- Panel C: Degree bar chart -->
<g id="c-chart">
<text x="887" y="1794" font-size="76" font-weight="bold" text-anchor="middle">Degree</text>
<g class="tk"><text x="564" y="1896">0</text><text x="694" y="1896">5</text><text x="823" y="1896">10</text><text x="953" y="1896">15</text><text x="1082" y="1896">20</text><text x="1212" y="1896">25</text></g>
<path class="ax" d="M564 1904V1917M694 1904V1917M823 1904V1917M953 1904V1917M1082 1904V1917M1212 1904V1917"/>
<g id="c-bars">
<rect class="bar" x="564" y="1947" width="492" height="60"/>
<rect class="bar" x="564" y="2032" width="467" height="60"/>
<rect class="bar" x="564" y="2118" width="441" height="60"/>
<rect class="bar" x="564" y="2203" width="415" height="60"/>
<rect class="bar" x="564" y="2288" width="337" height="60"/>
<rect class="bar" x="564" y="2374" width="285" height="60"/>
<rect class="bar" x="564" y="2459" width="285" height="60"/>
<rect class="bar" x="564" y="2545" width="259" height="60"/>
<rect class="bar" x="564" y="2630" width="233" height="60"/>
<rect class="bar" x="564" y="2715" width="233" height="60"/>
<rect class="bar" x="564" y="2801" width="233" height="60"/>
<rect class="bar" x="564" y="2886" width="233" height="60"/>
<rect class="bar" x="564" y="2971" width="207" height="60"/>
<rect class="bar" x="564" y="3057" width="181" height="60"/>
<rect class="bar" x="564" y="3142" width="181" height="60"/>
</g>
<rect class="ax" x="564" y="1917" width="648" height="1305" stroke-width="7"/>
<path class="ax" d="M539 1977H564M539 2062H564M539 2148H564M539 2233H564M539 2318H564M539 2404H564M539 2489H564M539 2575H564M539 2660H564M539 2745H564M539 2831H564M539 2916H564M539 3001H564M539 3087H564M539 3172H564"/>
<g class="rl">
<text x="526" y="1999">TNF</text><text x="526" y="2084">IL6</text><text x="526" y="2170">AKT1</text><text x="526" y="2255">IL1B</text><text x="526" y="2340">VEGFA</text><text x="526" y="2426">HIF1A</text><text x="526" y="2511">CRP</text><text x="526" y="2597">CXCL8</text><text x="526" y="2682">IL10</text><text x="526" y="2767">SERPINE1</text><text x="526" y="2853">NOS2</text><text x="526" y="2938">NOS3</text><text x="526" y="3023">IFNG</text><text x="526" y="3109">ESR1</text><text x="526" y="3194">HMOX1</text>
</g>
<g class="vl">
<text x="1076" y="1995">19</text><text x="1051" y="2080">18</text><text x="1025" y="2166">17</text><text x="999" y="2251">16</text><text x="921" y="2336">13</text><text x="869" y="2422">11</text><text x="869" y="2507">11</text><text x="843" y="2593">10</text><text x="817" y="2678">9</text><text x="817" y="2763">9</text><text x="817" y="2849">9</text><text x="817" y="2934">9</text><text x="791" y="3019">8</text><text x="765" y="3105">7</text><text x="765" y="3190">7</text>
</g>
</g>

<!-- Panel D: UpSet + Venn -->
<g id="d-upset">
<text transform="translate(2112,2290) rotate(-90)" font-size="104" font-weight="bold" text-anchor="middle">intersection number</text>
<g font-size="66" font-weight="bold" text-anchor="end">
<text x="2240" y="1804">15</text><text x="2240" y="2144">10</text><text x="2240" y="2485">5</text><text x="2240" y="2826">0</text>
</g>
<g id="d-bars">
<rect class="ib" x="2367" y="1849" width="140" height="953" fill="#6fa8b8"/>
<rect class="ib" x="2597" y="2734" width="140" height="68" fill="#f8b9b5"/>
<rect class="ib" x="3057" y="2734" width="140" height="68" fill="#aecdfa"/>
<rect class="ib" x="3287" y="2734" width="140" height="68" fill="#70bfcf"/>
<rect class="ib" x="3517" y="2734" width="140" height="68" fill="#7fbb72"/>
<rect class="ib" x="3747" y="2666" width="140" height="136" fill="#aba8d9"/>
</g>
<path d="M2283 1777V2807" stroke="#000" stroke-width="9" fill="none"/>
<path d="M2278 2802H3977" stroke="#000" stroke-width="11" fill="none"/>
<path d="M2250 1781H2283M2250 2121H2283M2250 2462H2283" stroke="#000" stroke-width="8" fill="none"/>
<path d="M2437 2807V2832M2667 2807V2832M2897 2807V2832M3127 2807V2832M3357 2807V2832M3587 2807V2832M3817 2807V2832" stroke="#000" stroke-width="6" fill="none"/>
<g id="d-matrix">
<rect x="2280" y="2833" width="1695" height="112" fill="#e6e6e6"/>
<rect x="2280" y="2949" width="1695" height="112" fill="#d0cfcf"/>
<rect x="2280" y="3064" width="1695" height="112" fill="#e6e6e6"/>
<g class="dg">
<circle cx="2667" cy="3006" r="12"/><circle cx="2667" cy="3120" r="12"/>
<circle cx="2897" cy="2890" r="12"/><circle cx="2897" cy="3120" r="12"/>
<circle cx="3127" cy="2890" r="12"/><circle cx="3127" cy="3006" r="12"/>
<circle cx="3357" cy="2890" r="12"/>
<circle cx="3587" cy="3120" r="12"/>
<circle cx="3817" cy="3006" r="12" fill="#bfbfbf"/>
</g>
<path d="M2437 2890V3120M3357 3006V3120M3587 2890V3006M3817 2890V3120" stroke="#000" stroke-width="4" fill="none"/>
<g class="dk">
<circle cx="2437" cy="2890" r="12"/><circle cx="2437" cy="3006" r="12"/><circle cx="2437" cy="3120" r="12"/>
<circle cx="2667" cy="2890" r="12"/>
<circle cx="2897" cy="3006" r="12"/>
<circle cx="3127" cy="3120" r="12"/>
<circle cx="3357" cy="3006" r="12"/><circle cx="3357" cy="3120" r="12"/>
<circle cx="3587" cy="2890" r="12"/><circle cx="3587" cy="3006" r="12"/>
<circle cx="3817" cy="2890" r="12"/><circle cx="3817" cy="3120" r="12"/>
</g>
</g>
<g id="d-setsize">
<rect x="1830" y="2839" width="333" height="93" fill="#f8b9b5" stroke="#000" stroke-width="7"/>
<rect x="1830" y="2956" width="333" height="95" fill="#80dc98" stroke="#000" stroke-width="7"/>
<rect x="1867" y="3074" width="296" height="95" fill="#aecdfa" stroke="#000" stroke-width="7"/>
<path d="M2163 2814V3204M1794 3188H2163M1794 3188V3204M1886 3188V3204M1979 3188V3204M2071 3188V3204M2163 2890H2181M2163 3004H2181M2163 3120H2181" stroke="#000" stroke-width="4" fill="none"/>
<g font-size="44" font-weight="bold" text-anchor="middle">
<text x="1794" y="3253">20</text><text x="1886" y="3253">15</text><text x="1979" y="3253">10</text><text x="2071" y="3253">5</text><text x="2163" y="3253">0</text>
</g>
<text x="1976" y="3320" font-size="54" font-weight="bold" text-anchor="middle">Set size</text>
<g font-size="54" font-weight="bold">
<text x="2186" y="2909">BC</text><text x="2186" y="3025">CC</text><text x="2186" y="3139">DC</text>
</g>
</g>
</g>

<g id="d-legend">
<text x="2609" y="1756" font-size="57" font-weight="bold">Labels</text>
<rect x="2605" y="1775" width="64" height="68" fill="#f8b9b5" stroke="#000" stroke-width="5"/>
<rect x="2605" y="1852" width="64" height="68" fill="#80dc98" stroke="#000" stroke-width="5"/>
<rect x="2605" y="1929" width="64" height="68" fill="#aecdfa" stroke="#000" stroke-width="5"/>
<text class="lg" x="2685" y="1828">Betweenness(BC)</text>
<text class="lg" x="2685" y="1905">Closeness(CC)</text>
<text class="lg" x="2685" y="1982">Degree(DC)</text>
</g>

<g id="d-venn">
<circle cx="2916" cy="2245" r="213" fill="#f8b9b5"/>
<circle cx="2816" cy="2420" r="213" fill="#80dc98"/>
<circle cx="3014" cy="2420" r="213" fill="#aecdfa"/>
<g clip-path="url(#cR)"><circle cx="2816" cy="2420" r="213" fill="#7fbb72"/><circle cx="3014" cy="2420" r="213" fill="#aba8d9"/></g>
<g clip-path="url(#cG)"><circle cx="3014" cy="2420" r="213" fill="#70bfcf"/></g>
<g clip-path="url(#cR)"><g clip-path="url(#cG)"><circle cx="3014" cy="2420" r="213" fill="#6fa8b8"/></g></g>
<circle class="vc" cx="2916" cy="2245" r="213"/>
<circle class="vc" cx="2816" cy="2420" r="213"/>
<circle class="vc" cx="3014" cy="2420" r="213"/>
<g class="vn">
<text x="2914" y="2161">1</text><text x="2773" y="2316">1</text><text x="3050" y="2316">2</text><text x="2912" y="2400">14</text><text x="2714" y="2505">0</text><text x="2914" y="2561">1</text><text x="3113" y="2512">1</text>
</g>
</g>

<g id="d-arrow">
<line x1="2992" y1="2376" x2="3307" y2="2371" stroke="#000" stroke-width="5" marker-end="url(#arr)"/>
</g>

<g id="d-genes">
<rect x="3318" y="2032" width="670" height="580" fill="#e6e6e6" stroke="#000" stroke-width="5"/>
<g class="gt">
<text x="3496" y="2104">TNF</text><text x="3496" y="2185">AKT1</text><text x="3496" y="2267">IL6</text><text x="3496" y="2348">VEGFA</text><text x="3496" y="2430">IL1B</text><text x="3496" y="2513">SERPINE1</text><text x="3496" y="2595">CRP</text>
<text x="3832" y="2104">HIF1A</text><text x="3832" y="2185">IFNG</text><text x="3832" y="2267">NOS3</text><text x="3832" y="2348">NOS2</text><text x="3832" y="2430">HMOX1</text><text x="3832" y="2513">CXCL8</text><text x="3832" y="2595">ESR1</text>
</g>
</g>
</svg>
